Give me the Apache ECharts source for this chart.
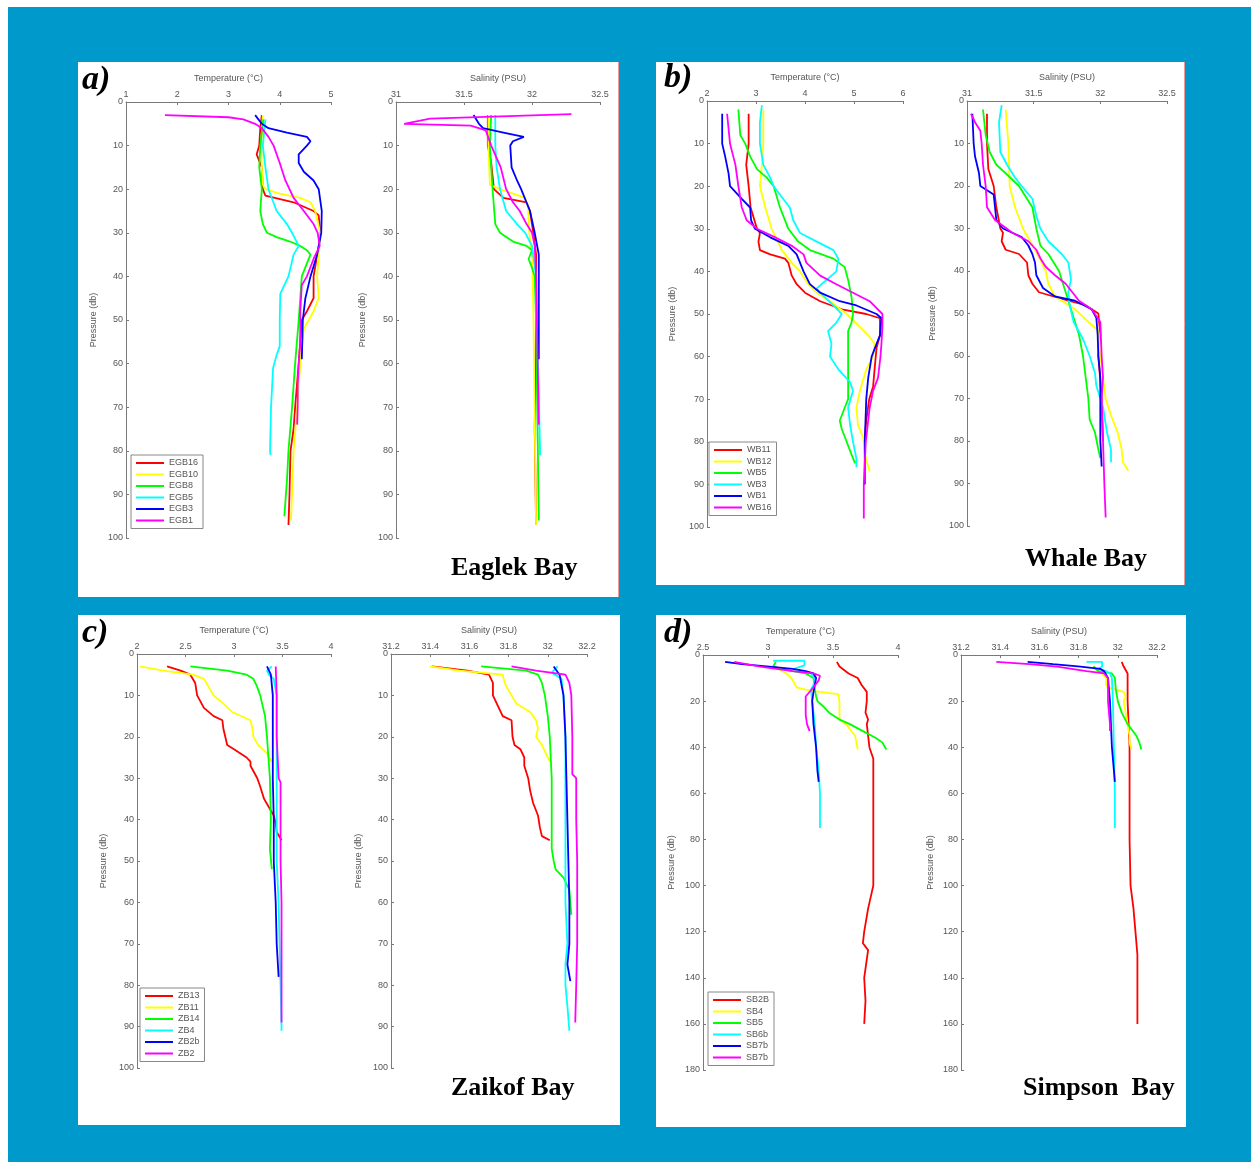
<!DOCTYPE html>
<html><head><meta charset="utf-8">
<script src="https://cdn.jsdelivr.net/npm/echarts@6/dist/echarts.min.js"></script>
<style>html,body{margin:0;padding:0;background:#fff}#c{width:1251px;height:1162px}</style>
</head><body><div id="c"></div>
<script>
// ---------- DATA : [value, pressure(db)] ----------
// a) Eaglek Bay
const egbNames = ['EGB16','EGB10','EGB8','EGB5','EGB3','EGB1'];
const EGB16_T = [[3.65,3],[3.62,6],[3.60,10],[3.55,12],[3.65,15],[3.67,20],[3.72,21.5],[4.27,23],[4.66,25],[4.76,26],[4.79,30],[4.76,33],[4.66,40],[4.66,45],[4.53,48],[4.43,50],[4.40,55],[4.37,60],[4.30,70],[4.27,75],[4.21,80],[4.19,90],[4.17,97]];
const EGB10_T = [[3.67,3],[3.64,10],[3.65,15],[3.67,19],[3.72,20],[4.0,21],[4.4,22],[4.6,23],[4.69,25],[4.79,30],[4.76,35],[4.73,40],[4.76,45],[4.66,48],[4.47,52],[4.44,55],[4.40,60],[4.34,70],[4.27,80],[4.24,90],[4.22,96]];
const EGB8_T = [[3.68,4],[3.62,10],[3.60,15],[3.65,20],[3.62,25],[3.67,28],[3.75,30],[3.94,31],[4.2,32],[4.4,33],[4.53,34],[4.6,35],[4.53,37],[4.43,40],[4.40,45],[4.37,50],[4.30,60],[4.24,70],[4.17,80],[4.14,87],[4.12,90],[4.09,95]];
const EGB5_T = [[3.72,4],[3.67,10],[3.72,15],[3.78,20],[3.94,25],[4.14,28],[4.24,30],[4.37,33],[4.27,35],[4.17,40],[4.01,44],[4.0,50],[4.0,56],[3.94,58],[3.87,61],[3.83,70],[3.81,80],[3.82,81]];
const EGB3_T = [[3.52,3],[3.65,5],[3.78,6],[4.14,7],[4.53,8],[4.60,9],[4.53,10],[4.37,12],[4.37,14],[4.47,16],[4.66,18],[4.76,20],[4.82,25],[4.81,30],[4.73,35],[4.60,40],[4.50,45],[4.45,50],[4.44,55],[4.43,59]];
const EGB1_T = [[1.76,3],[3.0,3.5],[3.29,4],[3.52,5],[3.65,6],[3.78,8],[3.88,10],[4.0,14],[4.11,18],[4.27,22],[4.47,25],[4.66,28],[4.74,30],[4.78,33],[4.66,36],[4.53,40],[4.43,42],[4.40,48],[4.40,55],[4.37,60],[4.35,65],[4.35,70],[4.34,74]];
const EGB16_S = [[31.675,3],[31.675,10],[31.70,14],[31.72,20],[31.79,22],[31.96,23],[31.985,25],[32.01,30],[32.03,35],[32.03,50],[32.02,75],[32.03,97]];
const EGB10_S = [[31.68,3],[31.68,10],[31.69,19],[31.765,20],[31.95,22],[31.97,24],[31.98,30],[32.0,35],[32.01,48],[32.03,97]];
const EGB8_S = [[31.70,3],[31.69,10],[31.71,20],[31.73,28],[31.765,30],[31.86,32],[31.96,33],[32.0,34],[31.975,36],[32.0,38],[32.02,40],[32.03,50],[32.05,96]];
const EGB5_S = [[31.73,3],[31.73,10],[31.74,15],[31.765,20],[31.81,25],[31.89,28],[31.95,30],[32.0,33],[32.03,40],[32.06,81]];
const EGB3_S = [[31.57,3],[31.61,5],[31.64,6],[31.79,7],[31.94,8],[31.86,9],[31.84,10],[31.85,15],[31.89,18],[31.92,20],[31.985,25],[32.02,30],[32.05,35],[32.05,59]];
const EGB1_S = [[32.29,2.8],[31.25,3.8],[31.06,5],[31.55,5.4],[31.66,6.5],[31.70,10],[31.77,15],[31.81,20],[31.86,23],[31.91,25],[31.96,28],[32.0,30],[32.02,33],[32.03,40],[32.05,74]];

// b) Whale Bay
const wbNames = ['WB11','WB12','WB5','WB3','WB1','WB16'];
const WB11_T = [[2.85,3],[2.85,10],[2.80,15],[2.85,20],[2.89,25],[3.02,30],[3.08,31],[3.05,33],[3.08,35],[3.29,36],[3.59,37],[3.66,38],[3.73,41],[3.83,43],[4.0,45],[4.31,47],[4.78,49],[5.25,50],[5.53,51],[5.53,55],[5.46,58],[5.42,63],[5.39,67],[5.31,70],[5.25,75],[5.22,79]];
const WB12_T = [[3.15,2],[3.15,10],[3.12,15],[3.08,20],[3.19,25],[3.32,30],[3.53,35],[3.73,38],[3.90,40],[4.07,43],[4.24,45],[4.51,47],[4.85,50],[5.12,53],[5.29,55],[5.42,57],[5.39,60],[5.25,63],[5.12,68],[5.05,72],[5.08,76],[5.19,79],[5.22,83],[5.32,87]];
const WB5_T = [[2.64,2],[2.68,8],[2.78,10],[2.88,13],[3.02,16],[3.22,18],[3.36,20],[3.49,25],[3.66,30],[3.86,33],[4.10,35],[4.58,37],[4.81,39],[4.88,42],[4.95,46],[4.98,50],[4.95,52],[4.88,54],[4.88,60],[4.88,70],[4.81,72],[4.71,75],[4.75,77],[4.85,80],[4.95,83],[5.02,85]];
const WB3_T = [[3.12,1],[3.08,5],[3.08,10],[3.15,15],[3.29,18],[3.36,20],[3.49,22],[3.69,25],[3.76,28],[3.90,31],[4.24,33],[4.58,35],[4.68,37],[4.64,40],[4.44,42],[4.24,44],[4.31,45],[4.58,48],[4.75,50],[4.64,52],[4.47,54],[4.54,57],[4.51,60],[4.68,63],[4.92,66],[4.98,68],[4.88,72],[4.92,76],[4.98,80],[5.05,84],[5.05,86]];
const WB1_T = [[2.31,3],[2.31,10],[2.37,13],[2.44,17],[2.47,20],[2.71,23],[2.88,25],[2.90,28],[2.98,30],[3.29,32],[3.66,34],[3.83,36],[3.97,40],[4.10,43],[4.31,45],[4.71,47],[5.05,48],[5.46,50],[5.56,51],[5.53,55],[5.46,57],[5.36,60],[5.29,65],[5.25,70],[5.22,80],[5.22,90]];
const WB16_T = [[2.41,3],[2.47,10],[2.58,15],[2.64,20],[2.71,25],[2.81,28],[3.02,30],[3.39,32],[3.73,34],[3.97,36],[4.03,38],[4.31,41],[4.64,43],[4.98,45],[5.32,47],[5.58,50],[5.58,53],[5.56,57],[5.54,60],[5.49,65],[5.39,68],[5.32,72],[5.24,80],[5.20,90],[5.20,98]];
const WB11_S = [[31.15,3],[31.15,10],[31.16,16],[31.20,20],[31.22,25],[31.25,30],[31.27,31],[31.26,33],[31.29,35],[31.39,36],[31.45,38],[31.46,41],[31.49,43],[31.54,45],[31.76,47],[31.885,48],[31.985,50],[32.0,55],[31.985,60],[32.0,66],[32.01,70],[32.02,80]];
const WB12_S = [[31.29,2],[31.31,10],[31.32,20],[31.36,25],[31.42,30],[31.51,35],[31.56,38],[31.59,40],[31.61,43],[31.66,46],[31.81,49],[31.91,52],[31.985,54],[32.0,60],[32.04,70],[32.08,74],[32.13,78],[32.16,82],[32.17,85],[32.21,87]];
const WB5_S = [[31.12,2],[31.14,8],[31.17,12],[31.22,15],[31.29,17],[31.39,20],[31.49,25],[31.52,30],[31.55,34],[31.61,36],[31.69,40],[31.74,45],[31.79,50],[31.84,55],[31.87,60],[31.91,70],[31.92,75],[31.96,78],[31.985,82],[32.0,84]];
const WB3_S = [[31.26,1],[31.24,5],[31.25,12],[31.30,15],[31.36,18],[31.41,20],[31.49,23],[31.52,27],[31.55,30],[31.61,33],[31.71,36],[31.76,38],[31.78,42],[31.76,45],[31.77,48],[31.80,52],[31.87,56],[31.92,60],[31.96,64],[31.97,67],[32.02,72],[32.05,78],[32.08,82],[32.08,85]];
const WB1_S = [[31.04,3],[31.05,10],[31.06,13],[31.09,17],[31.10,20],[31.20,22],[31.21,25],[31.22,28],[31.27,30],[31.41,32],[31.46,34],[31.49,36],[31.51,38],[31.52,41],[31.57,44],[31.66,46],[31.81,47],[31.935,49],[31.97,51],[31.98,55],[31.985,60],[32.0,65],[32.0,70],[32.0,80],[32.01,86]];
const WB16_S = [[31.03,3],[31.06,5],[31.10,7],[31.11,10],[31.12,15],[31.14,20],[31.15,25],[31.21,28],[31.34,31],[31.46,33],[31.52,35],[31.55,37],[31.59,39],[31.66,41],[31.74,43],[31.79,45],[31.84,47],[31.935,49],[32.0,52],[32.01,60],[32.02,65],[32.01,70],[32.02,80],[32.03,90],[32.04,98]];

// c) Zaikof Bay
const zbNames = ['ZB13','ZB11','ZB14','ZB4','ZB2b','ZB2'];
const ZB13_T = [[2.31,3],[2.45,4],[2.55,5],[2.60,7],[2.62,10],[2.69,13],[2.79,15],[2.88,16],[2.89,18],[2.91,20],[2.93,22],[3.0,23],[3.13,25],[3.17,26],[3.17,27],[3.24,30],[3.27,32],[3.31,35],[3.36,37],[3.41,39],[3.43,41],[3.44,43],[3.49,45]];
const ZB11_T = [[2.03,3],[2.27,4],[2.58,5],[2.69,6],[2.74,8],[2.79,10],[2.89,12],[2.98,14],[3.17,16],[3.19,18],[3.20,20],[3.25,22],[3.34,24],[3.39,26]];
const ZB14_T = [[2.55,3],[2.93,4],[3.13,5],[3.20,6],[3.24,8],[3.27,10],[3.32,15],[3.34,20],[3.37,30],[3.38,40],[3.37,47],[3.39,52]];
const ZB4_T = [[3.39,3],[3.34,4],[3.36,5],[3.41,6],[3.44,10],[3.44,20],[3.44,30],[3.44,40],[3.44,50],[3.46,60],[3.47,70],[3.48,80],[3.49,90],[3.49,91]];
const ZB2b_T = [[3.34,3],[3.38,5],[3.40,10],[3.40,20],[3.40,30],[3.41,40],[3.41,50],[3.42,55],[3.43,60],[3.44,70],[3.46,78]];
const ZB2_T = [[3.43,3],[3.44,10],[3.44,20],[3.46,30],[3.48,31],[3.48,40],[3.48,50],[3.49,60],[3.49,70],[3.49,80],[3.49,89]];
const ZB13_S = [[31.41,3],[31.59,4],[31.70,5],[31.72,7],[31.72,10],[31.75,13],[31.77,15],[31.815,16],[31.82,20],[31.83,22],[31.86,23],[31.88,25],[31.88,27],[31.90,30],[31.91,33],[31.925,36],[31.95,39],[31.96,42],[31.97,44],[32.01,45]];
const ZB11_S = [[31.40,3],[31.55,4],[31.77,5],[31.78,7],[31.79,8],[31.815,10],[31.84,12],[31.91,14],[31.94,16],[31.95,18],[31.94,20],[31.97,22],[31.99,24],[32.01,26]];
const ZB14_S = [[31.66,3],[31.89,4],[31.95,5],[31.97,7],[31.985,10],[32.0,15],[32.01,20],[32.02,30],[32.02,40],[32.02,47],[32.03,50],[32.04,52],[32.08,54],[32.11,57],[32.115,60],[32.12,63]];
const ZB4_S = [[32.05,3],[32.02,4.5],[32.07,6],[32.08,10],[32.09,20],[32.09,30],[32.09,50],[32.09,60],[32.10,70],[32.09,75],[32.09,80],[32.10,85],[32.11,91]];
const ZB2b_S = [[32.03,3],[32.06,5],[32.08,10],[32.09,20],[32.095,30],[32.10,40],[32.105,50],[32.11,60],[32.11,70],[32.10,75],[32.115,79]];
const ZB2_S = [[31.815,3],[31.94,4],[32.09,5],[32.11,7],[32.12,10],[32.125,20],[32.125,29],[32.145,30],[32.145,40],[32.15,50],[32.15,60],[32.15,70],[32.145,80],[32.14,89]];

// d) Simpson Bay
const sbNames = ['SB2B','SB4','SB5','SB6b','SB7b','SB7b\u200B'];
const SB2B_T = [[3.53,3],[3.55,5],[3.62,8],[3.69,10],[3.72,13],[3.76,16],[3.76,20],[3.75,25],[3.77,28],[3.76,30],[3.77,35],[3.78,40],[3.81,45],[3.81,60],[3.81,80],[3.81,100],[3.79,105],[3.77,110],[3.74,120],[3.73,125],[3.77,128],[3.74,140],[3.75,150],[3.74,160]];
const SB4_T = [[3.05,5],[3.14,8],[3.18,10],[3.21,13],[3.22,14],[3.29,15],[3.40,16],[3.54,17],[3.55,20],[3.55,25],[3.55,28],[3.60,30],[3.67,35],[3.68,38],[3.69,41]];
const SB5_T = [[3.06,3],[3.04,5],[3.19,7],[3.29,8],[3.35,10],[3.36,15],[3.37,18],[3.38,20],[3.42,22],[3.47,25],[3.55,28],[3.63,30],[3.73,33],[3.83,36],[3.88,38],[3.91,41]];
const SB6b_T = [[3.04,2.5],[3.28,2.5],[3.28,4.5],[3.20,6],[3.33,8],[3.36,10],[3.35,13],[3.33,15],[3.34,20],[3.36,30],[3.37,40],[3.39,50],[3.40,60],[3.40,70],[3.40,75]];
const SB7b_T = [[2.67,3],[2.80,4],[3.01,5],[3.19,6],[3.29,7],[3.35,8],[3.37,10],[3.36,13],[3.35,16],[3.34,20],[3.35,30],[3.37,40],[3.38,50],[3.39,55]];
const SB7bm_T = [[2.74,3],[2.94,5],[3.19,7],[3.35,8],[3.40,9],[3.39,11],[3.35,14],[3.29,18],[3.29,22],[3.29,26],[3.30,30],[3.32,33]];
const SB2B_S = [[32.02,3],[32.03,5],[32.05,8],[32.05,15],[32.05,20],[32.055,30],[32.06,40],[32.06,50],[32.06,80],[32.065,100],[32.08,110],[32.09,120],[32.10,130],[32.10,140],[32.10,150],[32.10,160]];
const SB4_S = [[31.875,5],[31.92,8],[31.94,10],[31.94,13],[31.95,14],[32.03,16],[32.04,18],[32.03,20],[32.04,25],[32.05,30],[32.06,35],[32.06,38],[32.07,41]];
const SB5_S = [[31.875,5],[31.90,7],[31.97,8],[31.985,10],[31.99,15],[32.0,20],[32.02,25],[32.05,30],[32.095,35],[32.11,38],[32.12,41]];
const SB6b_S = [[31.84,3],[31.92,3],[31.92,5],[31.90,6],[31.94,7],[31.96,8],[31.97,10],[31.975,20],[31.98,40],[31.985,60],[31.985,75]];
const SB7b_S = [[31.54,3],[31.67,4],[31.81,5],[31.91,6],[31.93,7],[31.95,10],[31.96,20],[31.965,30],[31.97,40],[31.985,55]];
const SB7bm_S = [[31.38,3],[31.55,4],[31.69,5],[31.84,7],[31.93,8],[31.95,10],[31.95,15],[31.95,20],[31.955,25],[31.96,30],[31.96,33]];

// axis ranges [min, max, interval]
const tempTicksA = [1, 5, 1],   salTicksA = [31, 32.5, 0.5];
const tempTicksB = [2, 6, 1],   salTicksB = [31, 32.5, 0.5];
const tempTicksC = [2, 4, 0.5], salTicksC = [31.2, 32.2, 0.2];
const tempTicksD = [2.5, 4, 0.5], salTicksD = [31.2, 32.2, 0.2];
const depthA = [0, 100, 10], depthB = [0, 100, 10], depthC = [0, 100, 10], depthD = [0, 180, 20];

// ---------- LAYOUT ----------
const COLORS = ['#ff0000','#ffff00','#00ff00','#00ffff','#0000ff','#ff00ff'];
const FONT = 'Liberation Sans';
const panels = [
  {names: egbNames, T:[EGB16_T,EGB10_T,EGB8_T,EGB5_T,EGB3_T,EGB1_T], S:[EGB16_S,EGB10_S,EGB8_S,EGB5_S,EGB3_S,EGB1_S],
   tx: tempTicksA, sx: salTicksA, dy: depthA, tg:[126,102,205,436], sg:[396,102,204,436], lg:[131,455], nameGap:[28,29]},
  {names: wbNames, T:[WB11_T,WB12_T,WB5_T,WB3_T,WB1_T,WB16_T], S:[WB11_S,WB12_S,WB5_S,WB3_S,WB1_S,WB16_S],
   tx: tempTicksB, sx: salTicksB, dy: depthB, tg:[707,101,196,426], sg:[967,101,200,425], lg:[709,442], nameGap:[30,30]},
  {names: zbNames, T:[ZB13_T,ZB11_T,ZB14_T,ZB4_T,ZB2b_T,ZB2_T], S:[ZB13_S,ZB11_S,ZB14_S,ZB4_S,ZB2b_S,ZB2_S],
   tx: tempTicksC, sx: salTicksC, dy: depthC, tg:[137,654,194,414], sg:[391,654,196,414], lg:[140,988], nameGap:[29,28]},
  {names: sbNames, T:[SB2B_T,SB4_T,SB5_T,SB6b_T,SB7b_T,SB7bm_T], S:[SB2B_S,SB4_S,SB5_S,SB6b_S,SB7b_S,SB7bm_S],
   tx: tempTicksD, sx: salTicksD, dy: depthD, tg:[703,655,195,415], sg:[961,655,196,415], lg:[708,992], nameGap:[27,26]}
];

const grid = [], xAxis = [], yAxis = [], series = [], legend = [];
const axisCol = '#7a7a7a', labCol = '#555';
function addPlot(g, xr, yr, xname, data, names, yGap) {
  const gi = grid.length;
  grid.push({left:g[0], top:g[1], width:g[2], height:g[3], containLabel:false});
  xAxis.push({gridIndex:gi, type:'value', position:'top', min:xr[0], max:xr[1], interval:xr[2],
    name:xname, nameLocation:'middle', nameGap:19,
    nameTextStyle:{fontSize:9, color:labCol, fontFamily:FONT},
    axisLine:{show:true, onZero:false, lineStyle:{color:axisCol, width:1}},
    axisTick:{show:true, inside:true, length:3, lineStyle:{color:axisCol}},
    axisLabel:{fontSize:9, color:labCol, margin:3, fontFamily:FONT, showMinLabel:true, showMaxLabel:true},
    splitLine:{show:false}});
  yAxis.push({gridIndex:gi, type:'value', inverse:true, min:yr[0], max:yr[1], interval:yr[2],
    name:'Pressure (db)', nameLocation:'middle', nameGap:yGap, nameRotate:90,
    nameTextStyle:{fontSize:9, color:labCol, fontFamily:FONT},
    axisLine:{show:true, onZero:false, lineStyle:{color:axisCol, width:1}},
    axisTick:{show:true, inside:true, length:3, lineStyle:{color:axisCol}},
    axisLabel:{fontSize:9, color:labCol, margin:3, fontFamily:FONT},
    splitLine:{show:false}});
  data.forEach((d, i) => {
    series.push({type:'line', name:names[i], xAxisIndex:gi, yAxisIndex:gi, data:d,
      showSymbol:false, symbol:'none', smooth:false, animation:false,
      lineStyle:{width:1.8, color:COLORS[i]}, itemStyle:{color:COLORS[i]}});
  });
}
panels.forEach(p => {
  addPlot(p.tg, p.tx, p.dy, 'Temperature (\u00B0C)', p.T, p.names, p.nameGap[0]);
  addPlot(p.sg, p.sx, p.dy, 'Salinity (PSU)', p.S, p.names, p.nameGap[1]);
  legend.push({data:p.names.map(n => ({name:n, icon:'rect'})), orient:'vertical', left:p.lg[0], top:p.lg[1],
    itemWidth:28, itemHeight:2, itemGap:1.5, itemTextGap:4, padding:[3,5,3,5],
    borderColor:'#888', borderWidth:1, backgroundColor:'#fff', selectedMode:false,
    textStyle:{fontSize:9, color:labCol, lineHeight:10, fontFamily:FONT}});
});

const serif = '"Liberation Serif","Times New Roman",serif';
const graphic = [
  {type:'rect', z:-20, silent:true, shape:{x:8, y:7, width:1243, height:1155}, style:{fill:'#0099cc'}},
  {type:'rect', z:-10, silent:true, shape:{x:78, y:62, width:541, height:535}, style:{fill:'#fff'}},
  {type:'rect', z:-10, silent:true, shape:{x:656, y:62, width:529, height:523}, style:{fill:'#fff'}},
  {type:'rect', z:-10, silent:true, shape:{x:78, y:615, width:542, height:510}, style:{fill:'#fff'}},
  {type:'rect', z:-10, silent:true, shape:{x:656, y:615, width:530, height:512}, style:{fill:'#fff'}},
  {type:'line', z:-5, silent:true, shape:{x1:618.5, y1:62, x2:618.5, y2:597}, style:{stroke:'#f29a9a', lineWidth:1}},
  {type:'line', z:-5, silent:true, shape:{x1:1184.5, y1:62, x2:1184.5, y2:585}, style:{stroke:'#f29a9a', lineWidth:1}},
  {type:'text', z:10, style:{x:82, y:80, text:'a)', font:'italic bold 34px ' + serif, fill:'#000', verticalAlign:'middle'}},
  {type:'text', z:10, style:{x:664, y:78, text:'b)', font:'italic bold 34px ' + serif, fill:'#000', verticalAlign:'middle'}},
  {type:'text', z:10, style:{x:82, y:633, text:'c)', font:'italic bold 34px ' + serif, fill:'#000', verticalAlign:'middle'}},
  {type:'text', z:10, style:{x:664, y:633, text:'d)', font:'italic bold 34px ' + serif, fill:'#000', verticalAlign:'middle'}},
  {type:'text', z:10, style:{x:451, y:568, text:'Eaglek Bay', font:'bold 26px ' + serif, fill:'#000', verticalAlign:'middle'}},
  {type:'text', z:10, style:{x:1025, y:559, text:'Whale Bay', font:'bold 26px ' + serif, fill:'#000', verticalAlign:'middle'}},
  {type:'text', z:10, style:{x:451, y:1088, text:'Zaikof Bay', font:'bold 26px ' + serif, fill:'#000', verticalAlign:'middle'}},
  {type:'text', z:10, style:{x:1023, y:1088, text:'Simpson  Bay', font:'bold 26px ' + serif, fill:'#000', verticalAlign:'middle'}}
];

const chart = echarts.init(document.getElementById('c'), null, {renderer:'canvas'});
chart.setOption({backgroundColor:'#fff', animation:false, grid, xAxis, yAxis, series, legend, graphic});
</script></body></html>
